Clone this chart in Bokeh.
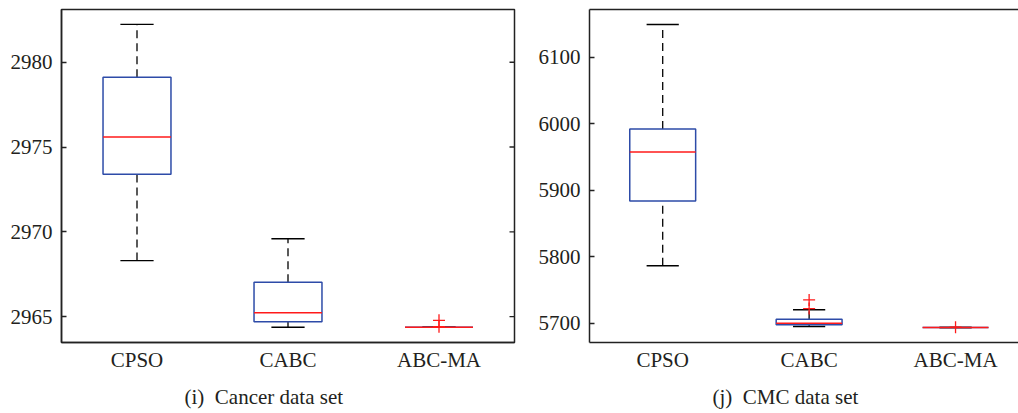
from bokeh.plotting import figure
from bokeh.layouts import row
from bokeh.models import Range1d, LinearAxis, FixedTicker, Title
from bokeh.embed import file_html
from bokeh.resources import INLINE

# ---------------- data ----------------
categories = ["CPSO", "CABC", "ABC-MA"]

cancer_lower = [2968.30, 2964.37, 2964.37]
cancer_q1 = [2973.40, 2964.70, 2964.37]
cancer_median = [2975.59, 2965.22, 2964.37]
cancer_q3 = [2979.11, 2967.02, 2964.37]
cancer_upper = [2982.23, 2969.59, 2964.37]
cancer_outlier_cat = ["ABC-MA", "ABC-MA"]
cancer_outlier_val = [2964.78, 2964.40]
cancer_ticks = [2965, 2970, 2975, 2980]

cmc_lower = [5786.4, 5695.0, 5693.5]
cmc_q1 = [5883.9, 5697.5, 5693.5]
cmc_median = [5957.5, 5700.0, 5693.5]
cmc_q3 = [5992.0, 5706.0, 5693.5]
cmc_upper = [6149.4, 5720.2, 5693.5]
cmc_outlier_cat = ["CABC", "CABC", "ABC-MA"]
cmc_outlier_val = [5735.0, 5722.0, 5694.0]
cmc_ticks = [5700, 5800, 5900, 6000, 6100]

captions = ["(i)\u00a0\u00a0Cancer data set", "(j)\u00a0\u00a0CMC data set"]

FONT = "Liberation Serif"
TXT = "#231F20"
FRAME = "#222222"
BLUE = "#2D4BA8"
RED = "#FF1A1A"
BOX_W = 0.45
CAP_W = 0.22
FS = "21px"


def draw_boxes(p, lower, q1, med, q3, upper, out_cat, out_val):
    xs = [i + 1 for i in range(len(categories))]
    # whiskers (dashed)
    p.segment(x0=xs, y0=q3, x1=xs, y1=upper, line_color="black", line_width=1.3, line_dash="8 5")
    p.segment(x0=xs, y0=lower, x1=xs, y1=q1, line_color="black", line_width=1.3, line_dash="8 5")
    # caps
    p.segment(x0=[x - CAP_W / 2 for x in xs], y0=upper, x1=[x + CAP_W / 2 for x in xs], y1=upper,
              line_color="black", line_width=1.4)
    p.segment(x0=[x - CAP_W / 2 for x in xs], y0=lower, x1=[x + CAP_W / 2 for x in xs], y1=lower,
              line_color="black", line_width=1.4)
    # boxes
    p.quad(left=[x - BOX_W / 2 for x in xs], right=[x + BOX_W / 2 for x in xs], bottom=q1, top=q3,
           fill_color=None, line_color=BLUE, line_width=1.5)
    # medians
    p.segment(x0=[x - BOX_W / 2 for x in xs], y0=med, x1=[x + BOX_W / 2 for x in xs], y1=med,
              line_color=RED, line_width=1.5)
    # outliers
    ox = [categories.index(c) + 1 for c in out_cat]
    p.scatter(x=ox, y=out_val, marker="cross", size=12, line_color=RED, line_width=1.3)


def style_common(p, ticks, caption, cap_offset):
    p.toolbar_location = None
    p.xgrid.visible = False
    p.ygrid.visible = False
    p.background_fill_color = "white"
    p.border_fill_color = "white"
    xa = p.xaxis[0]
    xa.ticker = FixedTicker(ticks=[i + 1 for i in range(len(categories))])
    xa.major_label_overrides = {i + 1: c for i, c in enumerate(categories)}
    xa.major_tick_in = 0
    xa.major_tick_out = 0
    xa.minor_tick_in = 0
    xa.minor_tick_out = 0
    xa.major_label_standoff = 5
    xa.axis_line_color = FRAME
    xa.axis_line_width = 1.5
    xa.major_label_text_font = FONT
    xa.major_label_text_font_size = FS
    xa.major_label_text_color = TXT
    ya = p.yaxis[0]
    ya.ticker = FixedTicker(ticks=ticks)
    ya.major_tick_in = 5
    ya.major_tick_out = 0
    ya.minor_tick_in = 0
    ya.minor_tick_out = 0
    ya.major_tick_line_color = FRAME
    ya.major_tick_line_width = 1.3
    ya.major_label_standoff = 9
    ya.axis_line_color = FRAME
    ya.axis_line_width = 1.5
    ya.major_label_text_font = FONT
    ya.major_label_text_font_size = FS
    ya.major_label_text_color = TXT
    t = Title(text=caption, align="left", text_font=FONT, text_font_size=FS,
              text_font_style="normal", text_color=TXT, standoff=16, offset=cap_offset)
    p.add_layout(t, "below")


# ---------------- left panel ----------------
p1 = figure(title=None, frame_width=453, frame_height=333, min_border_left=61, min_border_right=20,
            min_border_top=9, min_border_bottom=71,
            x_range=Range1d(0.5, 3.5), y_range=Range1d(2963.47, 2983.11),
            toolbar_location=None, output_backend="svg")
p1.outline_line_color = FRAME
p1.outline_line_width = 1.5
p1.outline_line_alpha = 1.0
draw_boxes(p1, cancer_lower, cancer_q1, cancer_median, cancer_q3, cancer_upper,
           cancer_outlier_cat, cancer_outlier_val)
style_common(p1, cancer_ticks, captions[0], 123)
# inward ticks on the right edge of the box (half of each dash is clipped by the frame)
p1.scatter(x=[p1.x_range.end] * len(cancer_ticks), y=cancer_ticks, marker="dash", size=10,
           line_color=FRAME, line_width=1.3)

# ---------------- right panel ----------------
p2 = figure(title=None, frame_width=429, frame_height=333, min_border_left=55, min_border_right=0,
            min_border_top=9, min_border_bottom=71,
            x_range=Range1d(0.5, 3.43), y_range=Range1d(5670.9, 6172.0),
            toolbar_location=None, output_backend="svg")
p2.outline_line_color = None
draw_boxes(p2, cmc_lower, cmc_q1, cmc_median, cmc_q3, cmc_upper, cmc_outlier_cat, cmc_outlier_val)
style_common(p2, cmc_ticks, captions[1], 123)
ta = LinearAxis(ticker=FixedTicker(ticks=[]), major_tick_in=0, major_tick_out=0,
                minor_tick_in=0, minor_tick_out=0, major_label_standoff=0,
                axis_line_color=FRAME, axis_line_width=1.5)
p2.add_layout(ta, "above")

layout = row(p1, p2, spacing=0)
open("out.html", "w").write(file_html(layout, INLINE))
